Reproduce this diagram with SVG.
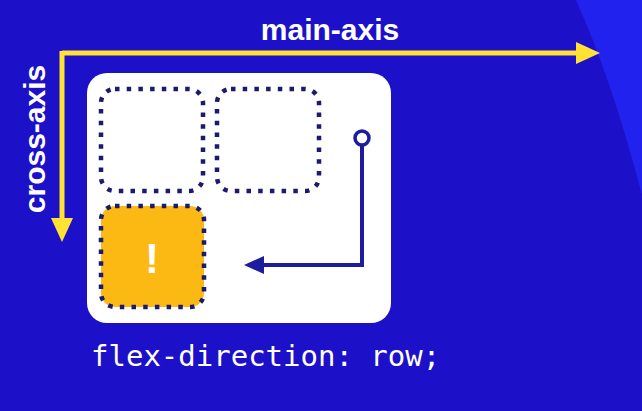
<svg xmlns="http://www.w3.org/2000/svg" width="642" height="411" viewBox="0 0 642 411">
<style>
.lbl{font-family:"Liberation Sans",Arial,sans-serif;font-weight:bold;font-size:30px;fill:#ffffff}
.code{font-family:"DejaVu Sans Mono",monospace;font-size:29px;fill:#ffffff}
.slot{fill:none;stroke:#1b1a6e;stroke-width:4.5;stroke-dasharray:4.5 7.2}
.axis{stroke:#ffe233;stroke-width:5;fill:none}
.flow{stroke:#1c1c9c;stroke-width:4;fill:none}
</style>
<defs>
<marker id="ya" viewBox="0 0 24 22" refX="2" refY="11" markerWidth="24" markerHeight="22" markerUnits="userSpaceOnUse" orient="auto">
<path d="M0,0 L24,11 L0,22 Z" fill="#ffe233"/>
</marker>
<marker id="na" viewBox="0 0 20 18" refX="2" refY="9" markerWidth="20" markerHeight="18" markerUnits="userSpaceOnUse" orient="auto">
<path d="M0,0 L20,9 L0,18 Z" fill="#1c1c9c"/>
</marker>
</defs>
<rect width="642" height="411" fill="#1c10c8"/>
<path d="M576,0 Q612,80 642,195 L642,0 Z" fill="#2222ee"/>
<g id="axes">
<path class="axis" d="M62,53 L578,53" marker-end="url(#ya)"/>
<path class="axis" d="M62,51 L62,220" marker-end="url(#ya)"/>
<text class="lbl" x="330" y="40" text-anchor="middle">main-axis</text>
<text class="lbl" x="45" y="139" text-anchor="middle" transform="rotate(-90 45 139)">cross-axis</text>
</g>
<g id="container">
<rect x="87" y="73" width="304" height="250" rx="20" fill="#ffffff"/>
</g>
<g id="item1">
<rect class="slot" x="101" y="89" width="102" height="102" rx="14"/>
</g>
<g id="item2">
<rect class="slot" x="217" y="89" width="102" height="102" rx="14"/>
</g>
<g id="item3">
<rect x="101" y="206" width="103" height="101" rx="14" fill="#fdb913"/>
<rect class="slot" x="101" y="206" width="103" height="101" rx="14"/>
<text x="152" y="273" text-anchor="middle" font-family="Liberation Sans, Arial, sans-serif" font-weight="bold" font-size="42" fill="#ffffff">!</text>
</g>
<g id="connectors">
<path class="flow" d="M362,146 L362,265 L262,265" marker-end="url(#na)"/>
<circle cx="362" cy="138" r="7" fill="#ffffff" stroke="#1c1c9c" stroke-width="3.5"/>
</g>
<text class="code" x="91" y="366">flex-direction: row;</text>
</svg>
